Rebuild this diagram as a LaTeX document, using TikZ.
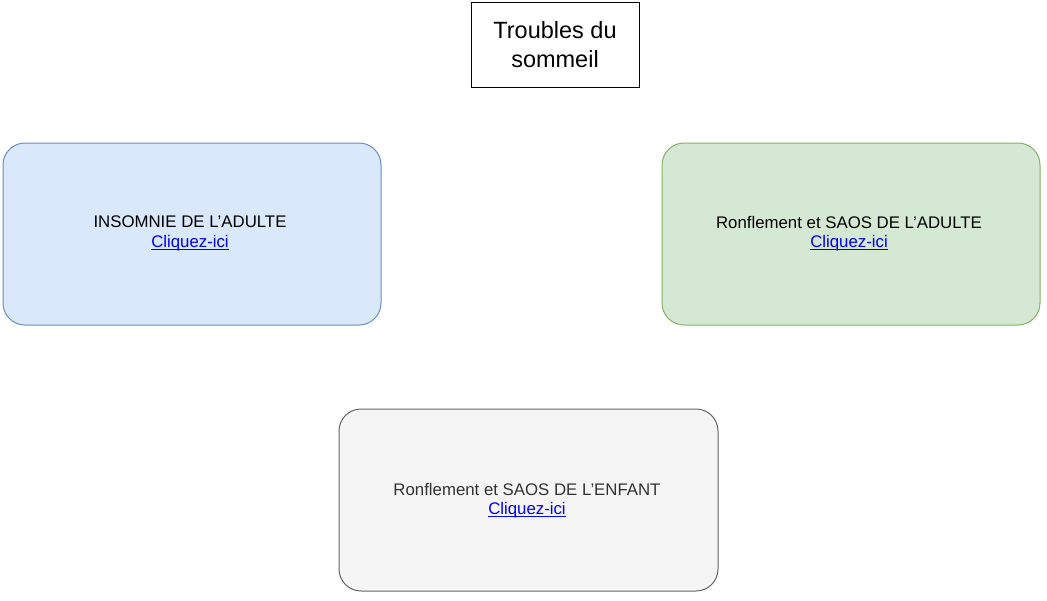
\documentclass[tikz,border=0pt]{standalone}
\usepackage{fontspec}
\setmainfont{Liberation Sans}
\begin{document}
\begin{tikzpicture}[x=1pt,y=-1pt,
  card/.style={rounded corners=22pt,line width=1pt},
  txt/.style={font=\fontsize{16.8}{20}\selectfont},
  lnk/.style={text={rgb,255:red,0;green,0;blue,238},font=\fontsize{16.8}{20}\selectfont,inner sep=0pt}]
\useasboundingbox (0,0) rectangle (1047,600);
\draw[line width=1pt,fill=white] (471,2) rectangle (639,87);
\node[align=center,font=\fontsize{23.5}{29}\selectfont] (t) at (555,44.5) {Troubles du\\sommeil};
\draw[card,draw={rgb,255:red,108;green,142;blue,191},fill={rgb,255:red,218;green,232;blue,252}] (3,143) rectangle (381,325);
\node[txt] (a) at (190,222) {INSOMNIE DE L\char39ADULTE};
\node[lnk] (a2) at (190,243) {Cliquez-ici};
\draw[blue,line width=0.8pt] (a2.base west)++(0,2) -- ([yshift=-2pt]a2.base east);
\draw[card,draw={rgb,255:red,130;green,179;blue,102},fill={rgb,255:red,213;green,232;blue,212}] (662,143) rectangle (1040,325);
\node[txt] (b) at (849,222) {Ronflement et SAOS DE L\char39ADULTE};
\node[lnk] (b2) at (849,243) {Cliquez-ici};
\draw[blue,line width=0.8pt] (b2.base west)++(0,2) -- ([yshift=-2pt]b2.base east);
\draw[card,draw={rgb,255:red,102;green,102;blue,102},fill={rgb,255:red,245;green,245;blue,245}] (339,409) rectangle (718,591);
\node[txt,text={rgb,255:red,51;green,51;blue,51}] (c) at (527,489) {Ronflement et SAOS DE L\char39ENFANT};
\node[lnk] (c2) at (527,510) {Cliquez-ici};
\draw[blue,line width=0.8pt] (c2.base west)++(0,2) -- ([yshift=-2pt]c2.base east);
\end{tikzpicture}
\end{document}
